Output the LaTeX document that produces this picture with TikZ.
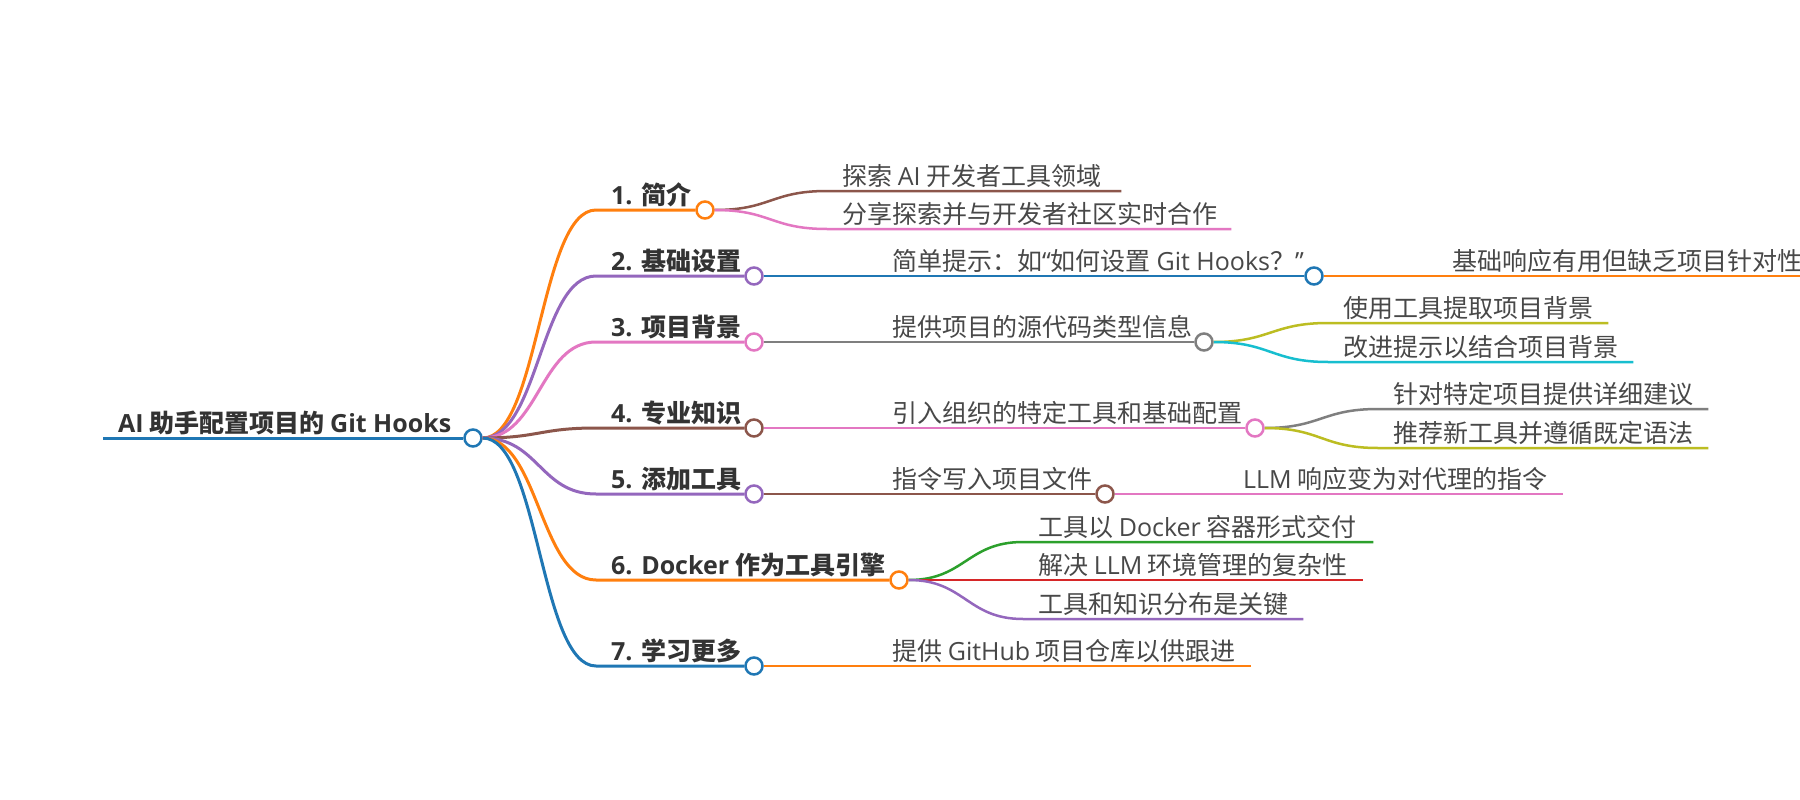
\documentclass[tikz,border=0pt]{standalone}
\usepackage{fontspec}
\setmainfont{Noto Sans CJK SC}
\newfontfamily\lat{Open Sans}
\definecolor{cblue}{HTML}{1F77B4}
\definecolor{corange}{HTML}{FF7F0E}
\definecolor{cgreen}{HTML}{2CA02C}
\definecolor{cred}{HTML}{D62728}
\definecolor{cpurple}{HTML}{9467BD}
\definecolor{cbrown}{HTML}{8C564B}
\definecolor{cpink}{HTML}{E377C2}
\definecolor{cgray}{HTML}{7F7F7F}
\definecolor{colive}{HTML}{BCBD22}
\definecolor{ccyan}{HTML}{17BECF}
\definecolor{tdark}{HTML}{333333}
\definecolor{tlight}{HTML}{484848}
\newcommand\lbox[2]{\makebox[#1pt][l]{#2}}
\tikzset{
  topic/.style={anchor=south west, inner xsep=15pt, inner ysep=0pt,
    text height=20pt, text depth=5.5pt},
  mainnode/.style={topic, text=tdark, font=\fontsize{25}{30}\selectfont\bfseries},
  subnode/.style={topic, text=tlight, font=\fontsize{25}{30}\selectfont},
  dot/.style={circle, draw=#1, fill=white, line width=2.5pt, minimum size=17pt, inner sep=0pt},
  lkone/.style={line width=3pt},
  lktwo/.style={line width=2.5pt},
  hc/.style={to path={.. controls +(56,0) and +(-56,0) .. (\tikztotarget)}}
}
\begin{document}
\begin{tikzpicture}[x=1pt,y=-1pt]
\fill[white] (0,0) rectangle (1800,800);
\useasboundingbox (0,0) rectangle (1800,800);

% root
\node[mainnode] (root) at (103,438) {{\lat AI} 助手配置项目的 {\lat Git Hooks}};
\node[dot=cblue] (rc) at (473,438) {};
\draw[lkone,cblue] (root.south west) -- (rc.west);

% level 1
\node[mainnode] (t1) at (596,210) {{\lat 1. }简介};
\node[dot=corange] (c1) at (705,210) {};
\node[mainnode] (t2) at (596,276) {{\lat 2. }基础设置};
\node[dot=cpurple] (c2) at (754,276) {};
\node[mainnode] (t3) at (596,342) {{\lat 3. }项目背景};
\node[dot=cpink] (c3) at (754,342) {};
\node[mainnode] (t4) at (596,428) {{\lat 4. }专业知识};
\node[dot=cbrown] (c4) at (754,428) {};
\node[mainnode] (t5) at (596,494) {{\lat 5. }添加工具};
\node[dot=cpurple] (c5) at (754,494) {};
\node[mainnode] (t6) at (596,580) {{\lat 6. Docker }作为工具引擎};
\node[dot=corange] (c6) at (899,580) {};
\node[mainnode] (t7) at (596,666) {{\lat 7. }学习更多};
\node[dot=cblue] (c7) at (754,666) {};

\draw[lkone,corange] (rc.east) to[hc] (t1.south west) -- (c1.west);
\draw[lkone,cpurple] (rc.east) to[hc] (t2.south west) -- (c2.west);
\draw[lkone,cpink]   (rc.east) to[hc] (t3.south west) -- (c3.west);
\draw[lkone,cbrown]  (rc.east) to[hc] (t4.south west) -- (c4.west);
\draw[lkone,cpurple] (rc.east) to[hc] (t5.south west) -- (c5.west);
\draw[lkone,corange] (rc.east) to[hc] (t6.south west) -- (c6.west);
\draw[lkone,cblue]   (rc.east) to[hc] (t7.south west) -- (c7.west);

% 1
\node[subnode] (s1a) at (827,191) {\lbox{264}{探索 {\lat AI} 开发者工具领域}};
\node[subnode] (s1b) at (827,229) {\lbox{374}{分享探索并与开发者社区实时合作}};
\draw[lktwo,cbrown] (c1.east) to[hc] (s1a.south west) -- (s1a.south east);
\draw[lktwo,cpink]  (c1.east) to[hc] (s1b.south west) -- (s1b.south east);

% 2
\node[subnode] (s2) at (877,276) {简单提示：如{\lat “}如何设置 {\lat Git Hooks}？{\lat ”}};
\node[dot=cblue] (c2b) at (1314,276) {};
\draw[lktwo,cblue] (c2.east) -- (s2.south west) -- (c2b.west);
\node[subnode] (s2b) at (1437,276) {\lbox{350}{基础响应有用但缺乏项目针对性}};
\draw[lktwo,corange] (c2b.east) -- (s2b.south west) -- (s2b.south east);

% 3
\node[subnode] (s3) at (877,342) {提供项目的源代码类型信息};
\node[dot=cgray] (c3b) at (1204,342) {};
\draw[lktwo,cgray] (c3.east) -- (s3.south west) -- (c3b.west);
\node[subnode] (s3a) at (1328,323) {\lbox{250}{使用工具提取项目背景}};
\node[subnode] (s3c) at (1328,362) {\lbox{275}{改进提示以结合项目背景}};
\draw[lktwo,colive] (c3b.east) to[hc] (s3a.south west) -- (s3a.south east);
\draw[lktwo,ccyan]  (c3b.east) to[hc] (s3c.south west) -- (s3c.south east);

% 4
\node[subnode] (s4) at (877,428) {引入组织的特定工具和基础配置};
\node[dot=cpink] (c4b) at (1255,428) {};
\draw[lktwo,cpink] (c4.east) -- (s4.south west) -- (c4b.west);
\node[subnode] (s4a) at (1378,409) {\lbox{300}{针对特定项目提供详细建议}};
\node[subnode] (s4c) at (1378,448) {\lbox{300}{推荐新工具并遵循既定语法}};
\draw[lktwo,cgray]  (c4b.east) to[hc] (s4a.south west) -- (s4a.south east);
\draw[lktwo,colive] (c4b.east) to[hc] (s4c.south west) -- (s4c.south east);

% 5
\node[subnode] (s5) at (877,494) {指令写入项目文件};
\node[dot=cbrown] (c5b) at (1105,494) {};
\draw[lktwo,cbrown] (c5.east) -- (s5.south west) -- (c5b.west);
\node[subnode] (s5b) at (1228,494) {\lbox{305}{{\lat LLM} 响应变为对代理的指令}};
\draw[lktwo,cpink] (c5b.east) -- (s5b.south west) -- (s5b.south east);

% 6
\node[subnode] (s6a) at (1023,542) {\lbox{320}{工具以 {\lat Docker} 容器形式交付}};
\node[subnode] (s6b) at (1023,580) {\lbox{310}{解决 {\lat LLM} 环境管理的复杂性}};
\node[subnode] (s6c) at (1023,619) {\lbox{250}{工具和知识分布是关键}};
\draw[lktwo,cgreen]  (c6.east) to[hc] (s6a.south west) -- (s6a.south east);
\draw[lktwo,cred]    (c6.east) -- (s6b.south west) -- (s6b.south east);
\draw[lktwo,cpurple] (c6.east) to[hc] (s6c.south west) -- (s6c.south east);

% 7
\node[subnode] (s7) at (877,666) {\lbox{344}{提供 {\lat GitHub} 项目仓库以供跟进}};
\draw[lktwo,corange] (c7.east) -- (s7.south west) -- (s7.south east);
\end{tikzpicture}
\end{document}
